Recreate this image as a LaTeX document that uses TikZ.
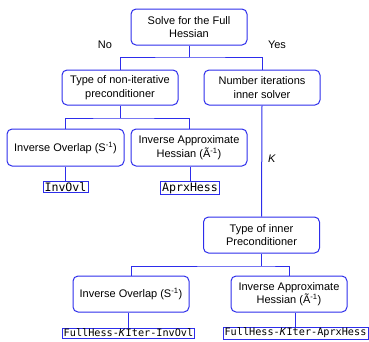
\documentclass[tikz,border=0pt]{standalone}
\usepackage{fontspec}
\setmainfont{Liberation Sans}
\setsansfont{Liberation Sans}
\setmonofont{DejaVu Sans Mono}
\definecolor{bl}{RGB}{45,45,235}
\begin{document}
\begin{tikzpicture}[x=1pt,y=-1pt,
  box/.style={draw=bl,line width=1pt,rounded corners=5pt,minimum width=116pt,minimum height=36pt,
    align=center,inner sep=1pt,font=\fontsize{11}{13.5}\selectfont},
  lab/.style={draw=bl,line width=0.8pt,inner xsep=1.5pt,inner ysep=1pt,font=\fontsize{10.2}{11}\ttfamily},
  labbig/.style={lab,font=\fontsize{11.6}{12}\ttfamily},
  conn/.style={draw=bl,line width=1pt},
  txt/.style={font=\fontsize{11}{13}\selectfont}]
\useasboundingbox (0,0) rectangle (369,341);
\node[box] (n1) at (189,27) {Solve for the Full\\Hessian};
\node[box,minimum height=35pt] (n2l) at (120,87.5) {Type of non-iterative\\preconditioner};
\node[box,minimum height=35pt] (n2r) at (262,87.5) {Number iterations\\inner solver};
\node[box,minimum width=117pt,minimum height=37pt] (n3a) at (65.5,147.5) {Inverse Overlap (S\textsuperscript{-1})};
\node[box,minimum height=37pt] (n3b) at (189,147.5) {Inverse Approximate\\Hessian (Ã\textsuperscript{-1})};
\node[box] (n4) at (261.5,235) {Type of inner\\Preconditioner};
\node[box] (n5a) at (131,294) {Inverse Overlap (S\textsuperscript{-1})};
\node[box] (n5b) at (289,294) {Inverse Approximate\\Hessian (Ã\textsuperscript{-1})};
\node[labbig] (l1) at (65.5,187) {InvOvl};
\node[labbig] (l2) at (190,188) {AprxHess};
\node[lab] (l3) at (128.5,333) {FullHess-\textit{K}Iter-InvOvl};
\node[lab] (l4) at (295.5,333) {FullHess-\textit{K}Iter-AprxHess};
\node[txt] (no) at (105,45) {No};
\node[txt] (yes) at (277,45) {Yes};
\node[txt] (k) at (272,159) {\textit{K}};
\coordinate (j1) at (189,57);
\coordinate (j2) at (120,118);
\coordinate (j3) at (261.5,266);
\draw[conn] (n1.south) -- (j1);
\draw[conn] (n2l.north) |- (j1) -| (n2r.north);
\draw[conn] (n2l.south) -- (j2);
\draw[conn] (n3a.north) |- (j2) -| (n3b.north);
\draw[conn] (n2r.south) -- (n4.north);
\draw[conn] (n4.south) -- (j3);
\draw[conn] (n5a.north) |- (j3) -| (n5b.north);
\draw[conn] (l1.north) -- (l1.north |- n3a.south);
\draw[conn] (l2.north) -- (l2.north |- n3b.south);
\draw[conn] (l3.north) -- (l3.north |- n5a.south);
\draw[conn] (l4.north) -- (l4.north |- n5b.south);
\end{tikzpicture}
\end{document}
